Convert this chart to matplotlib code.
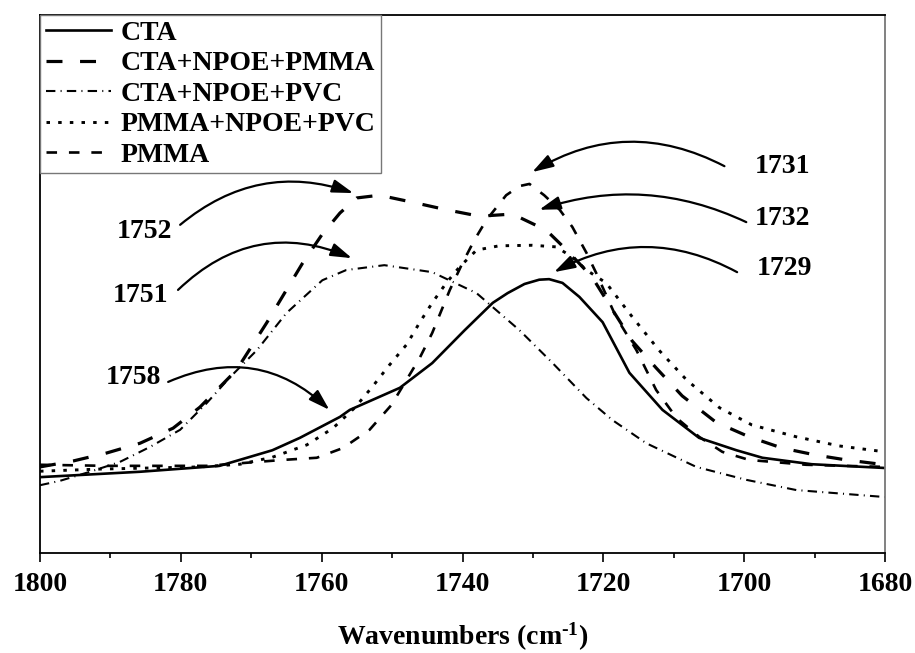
import numpy as np
import matplotlib
matplotlib.use("Agg")
import matplotlib.pyplot as plt
from matplotlib.ticker import MultipleLocator

plt.rcParams['font.family'] = ['Liberation Serif', 'DejaVu Serif']
plt.rcParams['font.weight'] = 'bold'
plt.rcParams['mathtext.fontset'] = 'custom'
plt.rcParams['mathtext.rm'] = 'Liberation Serif:bold'
plt.rcParams['mathtext.bf'] = 'Liberation Serif:bold'
plt.rcParams['mathtext.default'] = 'bf'

# spectra (wavenumber in cm-1, absorbance in arbitrary units)
wn_cta = [1800.0, 1785.8, 1774.5, 1767.0, 1763.1, 1757.4, 1756.0, 1748.9, 1744.3, 1739.7, 1735.7,
          1733.6, 1731.2, 1729.1, 1727.7, 1725.8, 1723.4, 1720.1, 1716.3, 1711.6, 1706.4, 1701.1,
          1697.4, 1690.4, 1680.0]
ab_cta = [0.141, 0.151, 0.162, 0.191, 0.214, 0.253, 0.266, 0.307, 0.353, 0.414, 0.465,
          0.483, 0.500, 0.508, 0.509, 0.502, 0.476, 0.429, 0.335, 0.266, 0.214, 0.191,
          0.177, 0.165, 0.158]

wn_cta_npoe_pmma = [1800.0, 1795.3, 1790.5, 1785.8, 1781.1, 1777.3, 1772.1, 1767.8, 1765.0, 1762.7, 1760.0,
                    1757.4, 1755.0, 1751.8, 1747.1, 1742.3, 1737.6, 1732.9, 1728.1, 1725.2, 1721.6, 1718.7,
                    1715.9, 1712.5, 1708.8, 1704.0, 1699.3, 1694.6, 1689.8, 1685.5, 1680.0]
ab_cta_npoe_pmma = [0.160, 0.171, 0.186, 0.204, 0.232, 0.271, 0.340, 0.428, 0.489, 0.539, 0.591,
                    0.632, 0.660, 0.665, 0.652, 0.638, 0.626, 0.630, 0.600, 0.563, 0.513, 0.452,
                    0.394, 0.344, 0.292, 0.243, 0.216, 0.195, 0.182, 0.173, 0.164]

wn_cta_npoe_pvc = [1800.0, 1797.2, 1792.9, 1788.7, 1784.4, 1780.1, 1776.3, 1773.0, 1769.2, 1765.0, 1759.9,
                   1756.5, 1751.1, 1744.3, 1738.0, 1731.9, 1727.2, 1722.4, 1718.7, 1713.9, 1706.8, 1699.7,
                   1692.6, 1680.0]
ab_cta_npoe_pvc = [0.126, 0.134, 0.151, 0.169, 0.197, 0.229, 0.279, 0.327, 0.377, 0.446, 0.507,
                   0.526, 0.535, 0.522, 0.483, 0.414, 0.353, 0.288, 0.247, 0.204, 0.160, 0.136,
                   0.117, 0.104]

wn_pmma_npoe_pvc = [1800.0, 1791.5, 1777.3, 1771.6, 1767.0, 1762.1, 1758.4, 1755.3, 1752.8, 1750.4, 1747.9,
                    1746.1, 1744.3, 1742.3, 1740.4, 1738.0, 1734.8, 1730.1, 1726.7, 1724.4, 1722.4, 1719.6,
                    1715.9, 1712.1, 1708.2, 1703.5, 1698.9, 1692.6, 1686.5, 1680.0]
ab_pmma_npoe_pvc = [0.152, 0.156, 0.160, 0.165, 0.178, 0.201, 0.232, 0.270, 0.309, 0.349, 0.388,
                    0.428, 0.465, 0.502, 0.532, 0.563, 0.571, 0.572, 0.569, 0.550, 0.526, 0.502,
                    0.439, 0.377, 0.322, 0.270, 0.238, 0.216, 0.199, 0.188]

wn_pmma = [1800.0, 1790.5, 1776.3, 1765.5, 1760.7, 1757.0, 1753.2, 1750.1, 1746.1, 1744.3, 1741.8,
           1740.0, 1738.3, 1736.6, 1733.8, 1731.9, 1730.5, 1728.4, 1726.2, 1724.4, 1722.4, 1721.0,
           1718.2, 1715.3, 1712.5, 1709.6, 1706.4, 1703.1, 1699.3, 1691.2, 1680.0]
ab_pmma = [0.164, 0.162, 0.162, 0.173, 0.177, 0.195, 0.229, 0.275, 0.362, 0.409, 0.489,
           0.539, 0.582, 0.619, 0.665, 0.682, 0.686, 0.665, 0.638, 0.606, 0.558, 0.520,
           0.439, 0.377, 0.303, 0.251, 0.216, 0.188, 0.173, 0.164, 0.160]

# peak labels: text, text position, arrow tail, arrow head, curvature
peak_labels = ['1752', '1751', '1758', '1731', '1732', '1729']
label_pos = [(1785.1, 0.597), (1785.7, 0.478), (1786.8, 0.327),
             (1694.6, 0.719), (1694.5, 0.621), (1694.3, 0.528)]
arrow_tail = [(1780.1, 0.610), (1780.4, 0.489), (1781.8, 0.318),
              (1702.8, 0.719), (1699.7, 0.615), (1701.0, 0.522)]
arrow_head = [(1755.5, 0.669), (1755.7, 0.548), (1758.9, 0.266),
              (1730.1, 0.708), (1729.1, 0.638), (1727.0, 0.522)]
arrow_rad = [-0.28, -0.33, -0.33, 0.28, 0.2, 0.27]

fig = plt.figure(figsize=(9.15, 6.53), dpi=100)
ax = fig.add_axes([40/915, 100/653, 845/915, 538/653])

ax.plot(wn_cta, ab_cta, color='black', lw=1.9, label='CTA')
ax.plot(wn_cta_npoe_pmma, ab_cta_npoe_pmma, color='black', lw=2.3, dashes=(5, 5.5), label='CTA+NPOE+PMMA')
ax.plot(wn_cta_npoe_pvc, ab_cta_npoe_pvc, color='black', lw=1.5, dashes=(4.5, 2.5, 0.5, 2.5), label='CTA+NPOE+PVC')
ax.plot(wn_pmma_npoe_pvc, ab_pmma_npoe_pvc, color='black', lw=2.1, dashes=(1.2, 2.8), label='PMMA+NPOE+PVC')
ax.plot(wn_pmma, ab_pmma, color='black', lw=1.9, dashes=(4, 4.5), label='PMMA')

for lab, pos, tail, head, rad in zip(peak_labels, label_pos, arrow_tail, arrow_head, arrow_rad):
    ax.text(pos[0], pos[1], lab, fontsize=20, fontweight='bold', ha='center', va='center')
    ax.annotate('', xy=head, xytext=tail,
                arrowprops=dict(arrowstyle='-|>,head_length=0.8,head_width=0.25', color='black',
                                lw=1.6, mutation_scale=16, shrinkA=0, shrinkB=0,
                                connectionstyle='arc3,rad=%s' % rad))

ax.set_xlim(1800, 1680)
ax.set_ylim(0, 1)
ax.xaxis.set_major_locator(MultipleLocator(20))
ax.xaxis.set_minor_locator(MultipleLocator(10))
ax.tick_params(axis='x', which='major', direction='out', length=6.5, width=1.2, labelsize=20, pad=7)
ax.tick_params(axis='x', which='minor', direction='out', length=3.6, width=1.2)
ax.set_yticks([])
for lbl in ax.get_xticklabels():
    lbl.set_fontweight('bold')
for s in ['left', 'bottom', 'top']:
    ax.spines[s].set_linewidth(1.3)
ax.spines['right'].set_color('#777777')
ax.spines['right'].set_linewidth(1.3)

ax.set_xlabel('Wavenumbers (cm$^{\\text{-}1}$)', fontsize=20, fontweight='bold', labelpad=17)

leg = ax.legend(loc='upper left', bbox_to_anchor=(0, 1), borderaxespad=0, fancybox=False,
                edgecolor='#777777', framealpha=1, handlelength=2.35, handletextpad=0.36,
                labelspacing=0.18, borderpad=0.2, prop={'size': 20, 'weight': 'bold'})
leg.get_frame().set_linewidth(1.0)

fig.savefig('out.png', dpi=100)
